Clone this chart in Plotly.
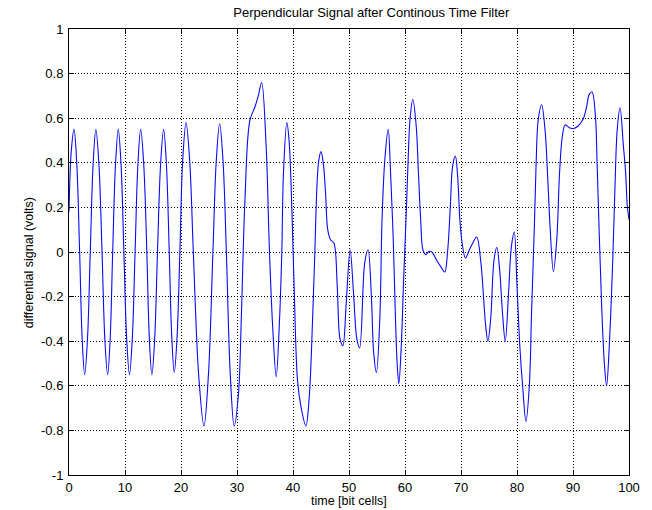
import plotly.graph_objects as go

# Filtered perpendicular read-back signal, sampled at its turning points,
# shoulders and zero crossings
time_bits = [
    0.0, 0.4, 0.9, 1.4, 1.9, 2.35, 2.8, 3.3, 3.8, 4.3, 4.8, 5.35, 5.9, 6.4,
    6.9, 7.35, 7.8, 8.3, 8.8, 9.3, 9.8, 10.3, 10.8, 11.3, 11.8, 12.3, 12.8,
    13.35, 13.9, 14.35, 14.8, 15.3, 15.8, 16.35, 16.9, 17.4, 17.9, 18.35,
    18.8, 19.3, 19.8, 20.3, 20.9, 21.55, 22.2, 23.15, 24.1, 24.9, 25.7, 26.3,
    26.9, 27.5, 28.1, 28.8, 29.5, 30.25, 30.8, 31.4, 32.3, 33.2, 33.8, 34.4,
    35.2, 35.8, 36.4, 37.0, 37.6, 38.0, 38.3, 38.9, 39.3, 39.8, 40.2, 40.8,
    41.4, 42.3, 42.9, 43.5, 43.9, 44.3, 44.6, 45.0, 45.4, 45.8, 46.2, 46.7,
    47.3, 47.9, 48.4, 48.9, 49.5, 50.2, 50.8, 51.4, 51.9, 52.8, 53.4, 54.0,
    54.4, 54.9, 55.5, 55.9, 56.4, 57.0, 57.4, 57.9, 58.3, 58.6, 58.9, 59.3,
    59.8, 60.2, 60.5, 60.9, 61.4, 62.0, 62.4, 62.8, 63.2, 63.7, 64.3, 64.8,
    65.6, 66.5, 67.1, 67.6, 68.1, 68.5, 69.0, 69.4, 69.8, 70.2, 70.8, 71.5,
    72.1, 72.8, 73.5, 74.1, 74.4, 74.8, 75.3, 75.9, 76.4, 76.9, 77.4, 77.9,
    78.5, 79.0, 79.5, 80.0, 80.5, 81.0, 81.6, 82.2, 82.6, 83.1, 83.4, 83.8,
    84.4, 85.0, 85.5, 85.9, 86.5, 87.1, 87.6, 88.1, 88.6, 89.4, 90.0, 90.9,
    91.8, 92.4, 92.9, 93.4, 94.0, 94.3, 94.7, 95.1, 95.6, 96.0, 96.5, 97.1,
    97.5, 97.9, 98.4, 99.0, 99.4, 99.7, 100.0,
]
signal_volts = [
    0.18, 0.45, 0.55, 0.39, 0.0, -0.39, -0.55, -0.39, 0.0, 0.39, 0.55, 0.39, 0.0, -0.39,
    -0.55, -0.39, 0.0, 0.39, 0.55, 0.39, 0.0, -0.39, -0.55, -0.39, 0.0, 0.39, 0.55,
    0.39, 0.0, -0.39, -0.55, -0.39, 0.0, 0.39, 0.55, 0.39, 0.0, -0.38,
    -0.54, -0.38, 0.0, 0.41, 0.58, 0.41, 0.0, -0.55, -0.78, -0.55, 0.0, 0.41,
    0.575, 0.41, 0.0, -0.55, -0.78, -0.64, -0.27, 0.22, 0.59, 0.65, 0.70, 0.76,
    0.475, 0.0, -0.35, -0.56, -0.30, 0.0, 0.355, 0.58, 0.50, 0.19, -0.154, -0.574,
    -0.69, -0.78, -0.65, -0.30, 0.0, 0.31, 0.41, 0.45, 0.40, 0.27, 0.10, 0.055,
    0.04, -0.154, -0.39, -0.42, -0.23, 0.01, -0.18, -0.39, -0.43, -0.05, 0.01, -0.20,
    -0.45, -0.54, -0.30, 0.145, 0.415, 0.55, 0.37, 0.055, -0.30, -0.50, -0.59, -0.44,
    -0.094, 0.16, 0.37, 0.595, 0.685, 0.565, 0.355, 0.145, 0.01, -0.012, 0.003, 0.0,
    -0.035, -0.07, -0.09, 0.0, 0.205, 0.385, 0.43, 0.34, 0.145, 0.04, -0.027, 0.01,
    0.04, 0.067, -0.035, -0.23, -0.33, -0.40, -0.30, -0.035, 0.02, -0.08, -0.27, -0.40,
    -0.18, 0.025, 0.09, -0.154, -0.42, -0.60, -0.76, -0.60, -0.27, 0.115, 0.385, 0.595,
    0.66, 0.55, 0.325, 0.115, -0.087, 0.055, 0.355, 0.52, 0.57, 0.557, 0.553, 0.565,
    0.595, 0.647, 0.707, 0.717, 0.61, 0.40, 0.07, -0.23, -0.50, -0.60, -0.41, -0.035,
    0.295, 0.55, 0.647, 0.475, 0.355, 0.205, 0.145,
]

x_ticks = [0, 10, 20, 30, 40, 50, 60, 70, 80, 90, 100]
y_ticks = [-1, -0.8, -0.6, -0.4, -0.2, 0, 0.2, 0.4, 0.6, 0.8, 1]
y_tick_text = ["-1", "-0.8", "-0.6", "-0.4", "-0.2", "0",
               "0.2", "0.4", "0.6", "0.8", "1"]

FONT = "Liberation Sans, Arial, sans-serif"

fig = go.Figure(
    go.Scatter(
        x=time_bits,
        y=signal_volts,
        mode="lines",
        line=dict(color="#0a0aff", width=1.1, shape="spline", smoothing=1.0),
        hoverinfo="x+y",
    )
)

axis_common = dict(
    showline=True,
    linecolor="black",
    linewidth=1,
    mirror="ticks",
    ticks="inside",
    ticklen=5,
    tickcolor="black",
    showgrid=True,
    gridcolor="black",
    gridwidth=1,
    griddash="1px,2px",
    zeroline=False,
    tickfont=dict(family=FONT, size=13, color="black"),
)

fig.update_xaxes(range=[0, 100], tickvals=x_ticks, **axis_common)
fig.update_yaxes(range=[-1, 1], tickvals=y_ticks, ticktext=y_tick_text,
                 ticklabelstandoff=2, **axis_common)

fig.update_layout(
    width=652,
    height=510,
    margin=dict(l=69, r=18, t=29, b=35),
    paper_bgcolor="white",
    plot_bgcolor="white",
    showlegend=False,
    title=dict(
        text="Perpendicular Signal after Continous Time Filter",
        font=dict(family=FONT, size=13, color="black"),
        x=352 / 652, xanchor="center",
        y=1 - 12 / 510, yanchor="middle",
        xref="paper", yref="container",
    ),
    annotations=[
        dict(
            text="time [bit cells]",
            xref="paper", yref="paper",
            x=0.5, y=0, yshift=-26, xanchor="center", yanchor="middle",
            showarrow=False,
            font=dict(family=FONT, size=12.5, color="black"),
        ),
        dict(
            text="differential signal (volts)",
            xref="paper", yref="paper",
            x=0, xshift=-40, y=0.475, xanchor="center", yanchor="middle",
            textangle=-90,
            showarrow=False,
            font=dict(family=FONT, size=12.5, color="black"),
        ),
    ],
)

fig.write_html("out.html")
